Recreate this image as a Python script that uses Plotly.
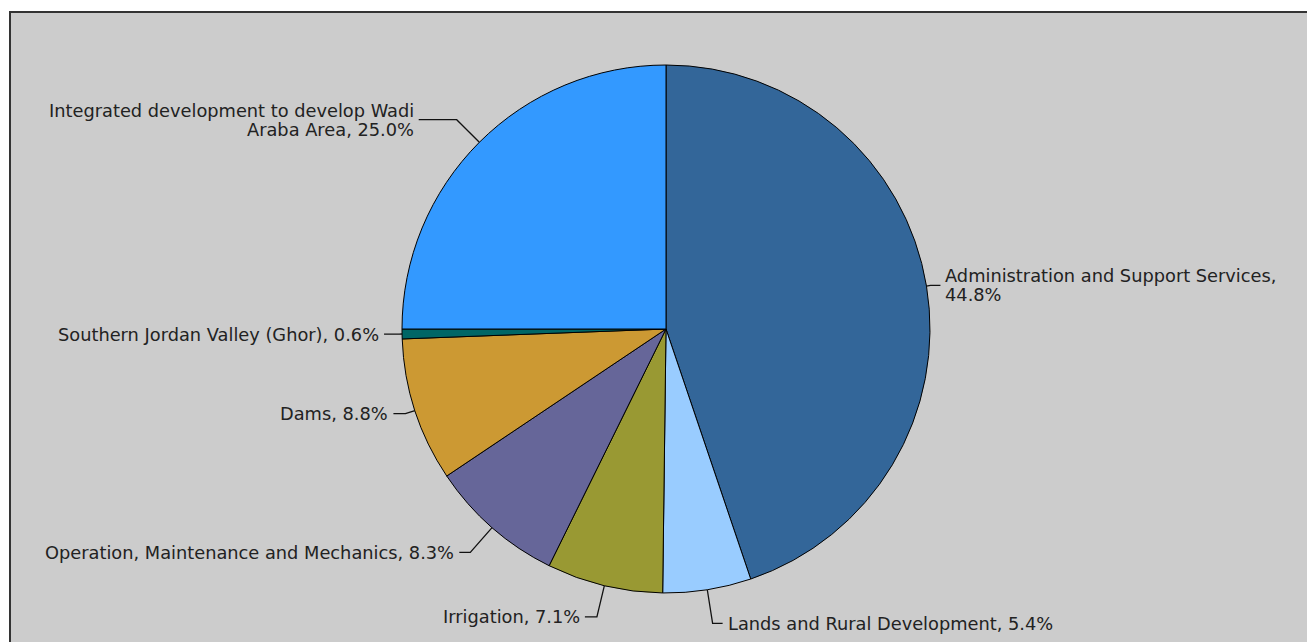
import math
import plotly.graph_objects as go

# Budget shares by programme (percent), in clockwise order from 12 o'clock
programmes = [
    "Administration and Support Services",
    "Lands and Rural Development",
    "Irrigation",
    "Operation, Maintenance and Mechanics",
    "Dams",
    "Southern Jordan Valley (Ghor)",
    "Integrated development to develop Wadi Araba Area",
]
shares = [44.8, 5.4, 7.1, 8.3, 8.8, 0.6, 25.0]
colors = ["#336699", "#99ccff", "#999933", "#666699", "#cc9933", "#006666", "#3399ff"]

# Label text as shown next to each slice (one entry per printed line)
label_lines = [
    ["Administration and Support Services,", "44.8%"],
    ["Lands and Rural Development, 5.4%"],
    ["Irrigation, 7.1%"],
    ["Operation, Maintenance and Mechanics, 8.3%"],
    ["Dams, 8.8%"],
    ["Southern Jordan Valley (Ghor), 0.6%"],
    ["Integrated development to develop Wadi", "Araba Area, 25.0%"],
]

# Leader-line geometry per label: radial elbow distance and horizontal run (px)
elbow_out = [4, 34, 32, 33, 10, 3, 32]
run_len = [10, 10, 12, 11, 12, 15, 38]

W, H = 1307, 642
CX, CY, R = 666, 329, 264
LINE_GAP = 19
FONT = dict(family="DejaVu Sans", size=17.8, color="#222222")


def px(x):
    return x / W


def py(y):
    return 1 - y / H


fig = go.Figure(
    go.Pie(
        labels=programmes,
        values=shares,
        sort=False,
        direction="clockwise",
        rotation=0,
        marker=dict(colors=colors, line=dict(color="#000000", width=1)),
        textinfo="none",
        hoverinfo="label+percent",
        showlegend=False,
        domain=dict(x=[px(CX - R), px(CX + R)], y=[py(CY + R), py(CY - R)]),
    )
)

shapes = [
    dict(
        type="rect", xref="paper", yref="paper",
        x0=px(10), y0=py(12), x1=px(W + 20), y1=py(H + 20),
        fillcolor="#cccccc", line=dict(color="#333333", width=2), layer="below",
    )
]
annotations = []

total = sum(shares)
cum = 0.0
for val, lines, d, run in zip(shares, label_lines, elbow_out, run_len):
    mid = (cum + val / 2) / total * 2 * math.pi
    cum += val
    sx, sy = math.sin(mid), -math.cos(mid)
    x0, y0 = CX + R * sx, CY + R * sy
    x1, y1 = CX + (R + d) * sx, CY + (R + d) * sy
    side = 1 if sx >= 0 else -1
    x2 = x1 + side * run
    shapes.append(
        dict(
            type="path", xref="paper", yref="paper", layer="above",
            path=f"M {px(x0)} {py(y0)} L {px(x1)} {py(y1)} L {px(x2)} {py(y1)}",
            line=dict(color="#111111", width=1.3),
        )
    )
    n = len(lines)
    for i, line in enumerate(lines):
        ly = y1 + (i - (n - 1) / 2) * LINE_GAP
        annotations.append(
            dict(
                xref="paper", yref="paper",
                x=px(x2 + side * 3), y=py(ly),
                xanchor="left" if side > 0 else "right", yanchor="middle",
                text=line, showarrow=False, font=FONT,
            )
        )

fig.update_layout(
    width=W, height=H,
    margin=dict(l=0, r=0, t=0, b=0),
    paper_bgcolor="#ffffff",
    shapes=shapes,
    annotations=annotations,
)

fig.write_html("out.html")
